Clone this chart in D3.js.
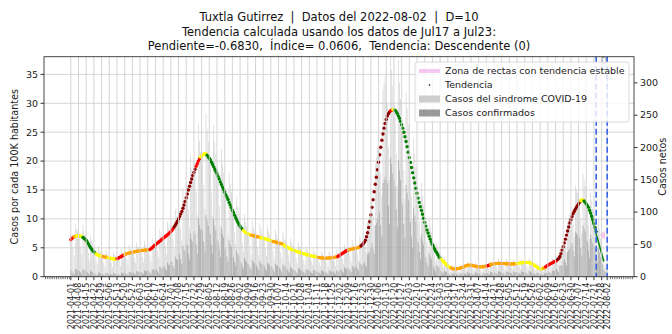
<!DOCTYPE html>
<html><head><meta charset="utf-8">
<script src="https://cdn.jsdelivr.net/npm/d3@7"></script>
<style>
html,body{margin:0;padding:0;background:#fff;}
svg{display:block;font-family:"DejaVu Sans",sans-serif;}
text{white-space:pre;}
</style></head><body>
<svg id="chart" width="672" height="334"></svg>
<script>
// ---- data ----
const firstDay = "2021-04-01";     // first day of the daily series
const cutDay = "2022-08-02";       // report date
const windowEnd = "2022-07-23";    // end of the trend window (D days before cut)
const fitStart = "2022-07-17";     // start of the trend window
const slope = -0.6830;
const titleLines = [
  "Tuxtla Gutirrez  |  Datos del 2022-08-02  |  D=10",
  "Tendencia calculada usando los datos de Jul17 a Jul23:",
  "Pendiente=-0.6830,  \u00cdndice= 0.0606,  Tendencia: Descendente (0)"
];

// smoothed cases per 100K inhabitants, one value per day from firstDay
const trendValues = [
  6.4,6.6,6.8,6.9,7.0,7.05,7.1,
  7.1,7.0,7.0,6.95,6.8,6.65,6.5,
  6.3,6.0,5.65,5.3,5.0,4.75,4.5,
  4.3,4.1,3.95,3.8,3.72,3.65,3.6,
  3.55,3.5,3.45,3.42,3.38,3.35,3.3,
  3.25,3.2,3.15,3.1,3.05,3.0,3.05,
  3.1,3.2,3.3,3.4,3.5,3.62,3.74,
  3.85,3.92,3.98,4.04,4.1,4.15,4.2,
  4.24,4.28,4.32,4.36,4.4,4.43,4.46,
  4.49,4.52,4.55,4.57,4.59,4.61,4.63,
  4.65,4.68,4.7,4.85,5.0,5.2,5.35,
  5.5,5.7,5.85,6.0,6.15,6.3,6.5,
  6.65,6.8,6.95,7.1,7.25,7.45,7.6,
  7.8,8.05,8.3,8.6,8.9,9.25,9.6,
  10.0,10.4,10.85,11.3,11.85,12.4,13.0,
  13.65,14.3,15.0,15.65,16.3,16.9,17.5,
  18.05,18.6,19.1,19.55,20.0,20.35,20.7,
  20.9,21.1,21.2,21.3,21.25,21.0,20.75,
  20.5,20.2,19.8,19.4,19.0,18.6,18.2,
  17.8,17.35,16.9,16.4,15.95,15.5,15.1,
  14.65,14.2,13.8,13.35,12.85,12.4,11.95,
  11.5,11.1,10.65,10.2,9.8,9.4,9.05,
  8.7,8.45,8.2,8.0,7.8,7.65,7.5,
  7.42,7.35,7.28,7.2,7.15,7.1,7.05,
  7.0,6.95,6.9,6.85,6.8,6.75,6.7,
  6.65,6.6,6.55,6.5,6.45,6.4,6.33,
  6.25,6.18,6.1,6.05,6.0,5.95,5.9,
  5.85,5.8,5.75,5.7,5.55,5.45,5.32,
  5.2,5.1,5.0,4.9,4.8,4.72,4.64,
  4.56,4.48,4.4,4.34,4.28,4.22,4.16,
  4.1,4.04,3.98,3.92,3.86,3.8,3.75,
  3.7,3.65,3.6,3.55,3.51,3.47,3.43,
  3.39,3.35,3.32,3.29,3.26,3.23,3.2,
  3.2,3.21,3.22,3.23,3.25,3.27,3.29,
  3.31,3.33,3.35,3.4,3.45,3.5,3.62,
  3.75,3.9,4.03,4.16,4.28,4.4,4.5,
  4.58,4.65,4.7,4.75,4.8,4.85,4.88,
  4.92,4.96,5.0,5.08,5.18,5.3,5.48,
  5.7,5.95,6.3,6.9,7.6,8.5,9.5,
  10.7,12.0,13.3,14.7,16.0,17.2,18.5,
  19.8,21.1,22.4,23.6,24.7,25.7,26.5,
  27.2,27.8,28.2,28.5,28.7,28.8,28.9,
  28.9,28.8,28.6,28.25,27.8,27.4,26.9,
  26.3,25.7,25.0,24.2,23.4,22.5,21.55,
  20.6,19.75,18.9,18.0,17.1,16.2,15.3,
  14.45,13.6,12.85,12.1,11.45,10.8,10.1,
  9.4,8.75,8.1,7.55,7.0,6.5,6.0,
  5.6,5.2,4.8,4.4,4.1,3.8,3.5,
  3.2,3.0,2.8,2.6,2.4,2.2,2.0,
  1.85,1.72,1.6,1.5,1.42,1.35,1.35,
  1.36,1.38,1.4,1.44,1.48,1.54,1.6,
  1.68,1.77,1.86,1.95,1.98,2.0,2.0,
  2.0,1.97,1.92,1.86,1.8,1.77,1.74,
  1.72,1.7,1.7,1.71,1.73,1.75,1.8,
  1.85,1.9,1.95,2.02,2.08,2.14,2.2,
  2.23,2.26,2.28,2.3,2.3,2.3,2.3,
  2.3,2.29,2.28,2.26,2.25,2.24,2.22,
  2.21,2.2,2.2,2.21,2.23,2.25,2.27,
  2.3,2.33,2.35,2.38,2.4,2.43,2.45,
  2.46,2.47,2.47,2.45,2.41,2.36,2.29,
  2.2,2.08,1.94,1.8,1.67,1.55,1.44,
  1.35,1.36,1.4,1.45,1.55,1.7,1.85,
  1.97,2.09,2.2,2.3,2.4,2.5,2.6,
  2.7,2.8,3.0,3.2,3.5,4.0,4.6,
  5.2,5.85,6.5,7.2,7.9,8.6,9.3,
  9.85,10.4,10.9,11.3,11.65,12.0,12.3,
  12.6,12.9,13.15,13.3,13.25,13.1,12.85,
  12.6,12.3,12.0,11.5,11.0,10.45,9.9,
  9.2,8.5,7.8
];

// trend class of each stretch: [first day index, class]
const trendClasses = [
  [0,"sube"],[3,"leve"],[5,"pico"],[11,"baja"],[23,"pico"],[29,"leve"],[34,"pico"],
  [42,"sube"],[49,"leve"],[72,"sube"],[94,"fuerte"],[114,"sube"],[118,"pico"],
  [124,"baja"],[157,"pico"],[164,"leve"],[173,"pico"],[184,"leve"],[194,"pico"],
  [225,"leve"],[243,"sube"],[253,"leve"],[264,"fuerte"],[291,"sube"],[293,"pico"],
  [295,"baja"],[337,"pico"],[346,"leve"],[379,"sube"],[382,"leve"],[406,"pico"],
  [430,"leve"],[432,"sube"],[443,"fuerte"],[464,"pico"],[467,"baja"]
];
const classColors = {sube:"#ff0000", fuerte:"#8b0000", baja:"#008000", pico:"#ffff00", leve:"#ffa500"};

// daily net cases, one value per day from firstDay to cutDay (weeks start on Thursday)
const suspectedCases = [
  66,60,45,33,82,74,70,
  64,63,48,35,80,71,66,
  52,47,36,25,63,56,50,
  37,35,25,19,47,40,37,
  33,31,22,16,41,36,33,
  30,28,21,15,38,34,31,
  32,30,23,17,42,37,33,
  38,36,27,20,49,43,40,
  41,39,29,22,53,47,43,
  44,41,31,23,55,49,45,
  46,44,33,24,60,53,49,
  57,54,40,30,73,65,60,
  66,63,47,35,85,76,70,
  81,77,58,42,104,92,85,
  106,101,76,56,136,121,111,
  146,139,104,76,188,167,153,
  184,175,131,96,236,210,193,
  200,190,142,105,252,228,209,
  182,173,130,95,234,208,190,
  153,146,110,80,197,175,161,
  125,119,89,65,161,143,131,
  96,91,68,50,123,109,100,
  75,71,53,39,96,85,78,
  67,64,48,35,86,77,70,
  64,61,46,34,82,73,67,
  61,58,44,32,78,70,64,
  57,54,40,30,73,65,59,
  54,51,38,28,69,61,56,
  46,44,33,24,59,53,48,
  41,39,29,21,53,47,43,
  37,35,26,19,47,42,38,
  34,32,24,18,43,38,35,
  30,29,22,16,39,35,32,
  30,29,22,16,39,35,32,
  32,30,23,17,41,36,33,
  39,37,28,20,50,44,41,
  44,42,32,23,57,50,46,
  48,46,35,25,62,55,51,
  52,55,45,38,85,90,98,
  100,115,95,80,175,185,200,
  190,200,160,125,290,300,310,
  275,265,200,150,345,320,295,
  270,255,190,140,335,300,275,
  240,225,165,120,285,260,235,
  185,170,125,90,215,190,170,
  130,118,85,60,145,125,110,
  85,75,55,40,90,78,68,
  50,45,33,24,52,45,40,
  30,27,20,14,30,26,23,
  16,15,11,8,18,16,14,
  14,13,10,7,18,16,15,
  18,17,13,9,23,20,19,
  18,17,12,9,22,20,18,
  16,15,11,8,20,18,17,
  19,18,13,10,24,22,20,
  22,21,16,11,28,25,23,
  22,21,16,11,28,25,23,
  21,20,15,11,27,24,22,
  22,21,16,12,28,25,23,
  23,22,16,12,29,26,23,
  17,16,12,9,21,19,17,
  14,13,10,7,18,16,15,
  20,21,16,12,29,27,26,
  28,30,24,18,42,42,44,
  55,60,48,38,85,90,95,
  100,105,80,62,140,135,130,
  125,120,90,66,160,150,140,
  115,108,80,58,130,118,105,
  95,88,62,45,90,75,60,
  45,38,22,14,18,8
];
const confirmedCases = [
  10,9,6,4,12,11,10,
  9,9,7,5,12,10,10,
  8,7,5,3,9,8,7,
  5,5,3,2,7,6,5,
  5,4,3,2,6,5,5,
  4,4,3,2,6,5,4,
  5,4,3,2,6,6,5,
  6,5,4,3,8,7,6,
  7,6,4,3,9,8,7,
  8,7,5,4,10,9,8,
  9,9,6,5,12,11,10,
  12,11,8,6,16,14,13,
  16,16,12,9,22,19,18,
  24,23,17,13,31,28,26,
  37,35,27,20,48,42,39,
  51,49,36,27,66,58,54,
  70,66,50,36,90,80,73,
  76,72,54,40,96,87,79,
  69,66,49,36,89,79,72,
  58,55,42,30,75,66,61,
  44,42,31,23,56,50,46,
  32,30,23,17,41,36,33,
  23,21,16,12,29,26,23,
  20,19,14,11,26,23,21,
  19,18,14,10,25,22,20,
  17,16,12,9,22,20,18,
  16,15,11,8,20,18,17,
  15,14,11,8,19,17,16,
  12,11,8,6,15,13,12,
  10,10,7,5,13,12,11,
  9,9,7,5,12,11,10,
  9,8,6,5,11,10,9,
  8,7,6,4,10,9,8,
  8,7,6,4,10,9,8,
  8,8,6,4,10,9,8,
  12,11,8,6,15,13,12,
  13,13,10,7,17,15,14,
  17,16,12,9,22,19,18,
  21,22,18,15,34,36,39,
  45,52,43,36,79,83,90,
  95,100,80,62,145,150,155,
  150,145,110,82,185,175,160,
  150,140,104,77,180,165,150,
  120,112,82,60,142,130,118,
  92,85,62,45,107,95,85,
  58,53,38,27,65,56,50,
  34,30,22,16,36,31,27,
  18,16,12,8,18,16,14,
  9,8,6,4,9,8,7,
  5,5,3,2,5,5,4,
  4,4,3,2,5,5,5,
  5,5,4,3,7,6,6,
  5,5,4,3,7,6,5,
  5,5,3,2,6,5,5,
  6,5,4,3,7,7,6,
  7,6,5,3,8,8,7,
  7,6,5,3,8,8,7,
  6,6,5,3,8,7,7,
  7,6,5,4,8,8,7,
  7,7,5,4,9,8,7,
  5,5,4,3,6,6,5,
  4,4,3,2,5,5,5,
  7,7,6,4,10,9,9,
  11,12,10,7,17,17,18,
  25,27,22,17,38,41,43,
  50,52,40,31,70,68,65,
  62,60,45,33,80,75,70,
  57,54,40,29,65,59,52,
  47,44,31,22,45,37,30,
  22,19,11,7,9,4
];

const leftTicks = [0,5,10,15,20,25,30,35];
const rightTicks = [0,50,100,150,200,250,300];
const leftMax = 38.06;
const rightMax = 340.5;

const legendItems = [
  {label:"Zona de rectas con tendencia estable", kind:"band"},
  {label:"Tendencia", kind:"dot"},
  {label:"Casos del sindrome COVID-19", kind:"light"},
  {label:"Casos confirmados", kind:"dark"}
];

// ---- layout ----
const svg = d3.select("#chart");
const L = 44, R = 634, T = 56.7, B = 276.7;
const parse = d3.utcParse("%Y-%m-%d");
const fmt = d3.utcFormat("%Y-%m-%d");
const d0 = parse(firstDay), dCut = parse(cutDay);
const dayMs = 864e5;
const span = (dCut - d0);
const x = d3.scaleUtc()
  .domain([new Date(+d0 - 0.05*span), new Date(+dCut + 0.05*span)])
  .range([L, R]);
const yL = d3.scaleLinear().domain([0, leftMax]).range([B, T]);
const yR = d3.scaleLinear().domain([0, rightMax]).range([B, T]);
const dayAt = i => d3.utcDay.offset(d0, i);

const colBand = "#f7c8f0", colLight = "#cdcdcd", colDark = "#9a9a9a", colGrid = "#d0d0d0";

svg.append("defs").append("clipPath").attr("id","plot")
  .append("rect").attr("x",L).attr("y",T).attr("width",R-L).attr("height",B-T);

// weekly ticks plus the cut day
const xTicks = d3.range(0, 484, 7).map(dayAt).concat([dCut]);

const grid = svg.append("g");
grid.selectAll("line.h").data(leftTicks).join("line")
  .attr("x1",L).attr("x2",R).attr("y1",d=>yL(d)).attr("y2",d=>yL(d))
  .attr("stroke",colGrid).attr("stroke-width",0.9);

const plot = svg.append("g").attr("clip-path","url(#plot)");
const bw = 0.55 * (x(dayAt(1)) - x(dayAt(0)));
plot.append("g").selectAll("rect").data(suspectedCases).join("rect")
  .attr("x",(d,i)=>x(dayAt(i))-bw/2).attr("width",bw)
  .attr("y",d=>yR(d)).attr("height",d=>B-yR(d)).attr("fill",colLight);
plot.append("g").selectAll("rect").data(confirmedCases).join("rect")
  .attr("x",(d,i)=>x(dayAt(i))-bw/2).attr("width",bw)
  .attr("y",d=>yR(d)).attr("height",d=>B-yR(d)).attr("fill",colDark);

// vertical grid over the bars
svg.append("g").selectAll("line").data(xTicks).join("line")
  .attr("x1", d=>x(d)).attr("x2", d=>x(d)).attr("y1",T).attr("y2",B)
  .attr("stroke",colGrid).attr("stroke-width",0.9);

// "D" marker at the top of the cut line
svg.append("text").attr("x", x(dCut)-3).attr("y", T+7.3).attr("text-anchor","middle")
  .attr("font-size",8).attr("fill","#999").text("D");

// dashed lines at window end and cut day
[parse(windowEnd), dCut].forEach(d=>{
  svg.append("line").attr("x1",x(d)).attr("x2",x(d)).attr("y1",T).attr("y2",B)
    .attr("stroke","#3b63e6").attr("stroke-width",1.6).attr("stroke-dasharray","6,3");
});

// stable-slope zone (fan of lines after the window)
const fanStart = d3.utcDay.offset(parse(windowEnd), 3), fanEnd = d3.utcDay.offset(dCut, -2);
plot.append("path")
  .attr("d", d3.line()([[x(fanStart), yL(7.2)],[x(fanEnd), yL(8.0)],[x(fanEnd), yL(6.4)]]) + "Z")
  .attr("fill", colBand);

// trend dots
function classOf(i){
  let c = trendClasses[0][1];
  for (const [s,k] of trendClasses) if (i >= s) c = k;
  return c;
}
plot.append("g").selectAll("circle").data(trendValues).join("circle")
  .attr("cx",(d,i)=>x(dayAt(i))).attr("cy",d=>yL(d)).attr("r",1.7)
  .attr("fill",(d,i)=>classColors[classOf(i)]);

// fitted trend line extended past the window
const fitIdx = Math.round((parse(fitStart)-d0)/dayMs);
const projEnd = d3.utcDay.offset(parse(windowEnd), 7);
const projDays = Math.round((projEnd - parse(fitStart))/dayMs);
const v0 = trendValues[fitIdx];
plot.append("line")
  .attr("x1",x(parse(fitStart))).attr("y1",yL(v0))
  .attr("x2",x(projEnd)).attr("y2",yL(v0 + slope*projDays))
  .attr("stroke","#008000").attr("stroke-width",1.5);

// axes frame
svg.append("rect").attr("x",L).attr("y",T).attr("width",R-L).attr("height",B-T)
  .attr("fill","none").attr("stroke","#333").attr("stroke-width",0.9);

// left axis
const gl = svg.append("g").attr("font-size",9.5).attr("fill","#222");
leftTicks.forEach(t=>{
  gl.append("line").attr("x1",L-3.5).attr("x2",L).attr("y1",yL(t)).attr("y2",yL(t)).attr("stroke","#333");
  gl.append("text").attr("x",L-6).attr("y",yL(t)).attr("dy","0.35em").attr("text-anchor","end").text(t);
});
// right axis
const gr = svg.append("g").attr("font-size",9.5).attr("fill","#222");
rightTicks.forEach(t=>{
  gr.append("line").attr("x1",R).attr("x2",R+3.5).attr("y1",yR(t)).attr("y2",yR(t)).attr("stroke","#333");
  gr.append("text").attr("x",R+6).attr("y",yR(t)).attr("dy","0.35em").attr("text-anchor","start").text(t);
});
// bottom axis
const gb = svg.append("g").attr("font-size",8).attr("fill","#222");
xTicks.forEach(d=>{
  gb.append("line").attr("x1",x(d)).attr("x2",x(d)).attr("y1",B).attr("y2",B+3.5).attr("stroke","#333");
  gb.append("text").attr("transform",`translate(${x(d)},${B+6}) rotate(-90)`)
    .attr("dy","0.35em").attr("text-anchor","end").text(fmt(d));
});
// short ticks outside the labelled range
const minorDays = d3.utcDay.every(2).range(x.domain()[0], d0)
  .concat(d3.utcDay.every(2).range(d3.utcDay.offset(dCut,2), x.domain()[1]));
minorDays.forEach(d=>{
  gb.append("line").attr("x1",x(d)).attr("x2",x(d)).attr("y1",B).attr("y2",B+2.5).attr("stroke","#333").attr("stroke-width",0.7);
});

// axis titles
svg.append("text").attr("transform",`translate(15,${(T+B)/2}) rotate(-90)`)
  .attr("text-anchor","middle").attr("dy","0.35em").attr("font-size",9.6).attr("fill","#222")
  .text("Casos por cada 100K habitantes");
svg.append("text").attr("transform",`translate(663,${(T+B)/2}) rotate(-90)`)
  .attr("text-anchor","middle").attr("dy","0.35em").attr("font-size",9.6).attr("fill","#222")
  .text("Casos netos");

// title
titleLines.forEach((s,i)=>{
  svg.append("text").attr("x",(L+R)/2).attr("y",21 + i*14.5).attr("text-anchor","middle")
    .attr("font-size",11.5).attr("fill","#111").text(s);
});

// legend (semi-transparent box over the plot)
const lg = svg.append("g").attr("transform","translate(415,62)");
lg.append("rect").attr("width",214).attr("height",60).attr("rx",2.5)
  .attr("fill","#fff").attr("fill-opacity",0.8).attr("stroke","#d0d0d0").attr("stroke-width",0.8);
legendItems.forEach((it,i)=>{
  const cy = 9 + i*14;
  if (it.kind==="band") lg.append("line").attr("x1",4).attr("x2",25).attr("y1",cy).attr("y2",cy)
      .attr("stroke",colBand).attr("stroke-width",4);
  if (it.kind==="dot") lg.append("circle").attr("cx",14.5).attr("cy",cy).attr("r",0.9).attr("fill","#555");
  if (it.kind==="light") lg.append("rect").attr("x",4).attr("y",cy-3.5).attr("width",21).attr("height",7).attr("fill",colLight);
  if (it.kind==="dark") lg.append("rect").attr("x",4).attr("y",cy-3.5).attr("width",21).attr("height",7).attr("fill",colDark);
  lg.append("text").attr("x",30).attr("y",cy).attr("dy","0.35em").attr("font-size",9.5).attr("fill","#222").text(it.label);
});
</script>
</body></html>
